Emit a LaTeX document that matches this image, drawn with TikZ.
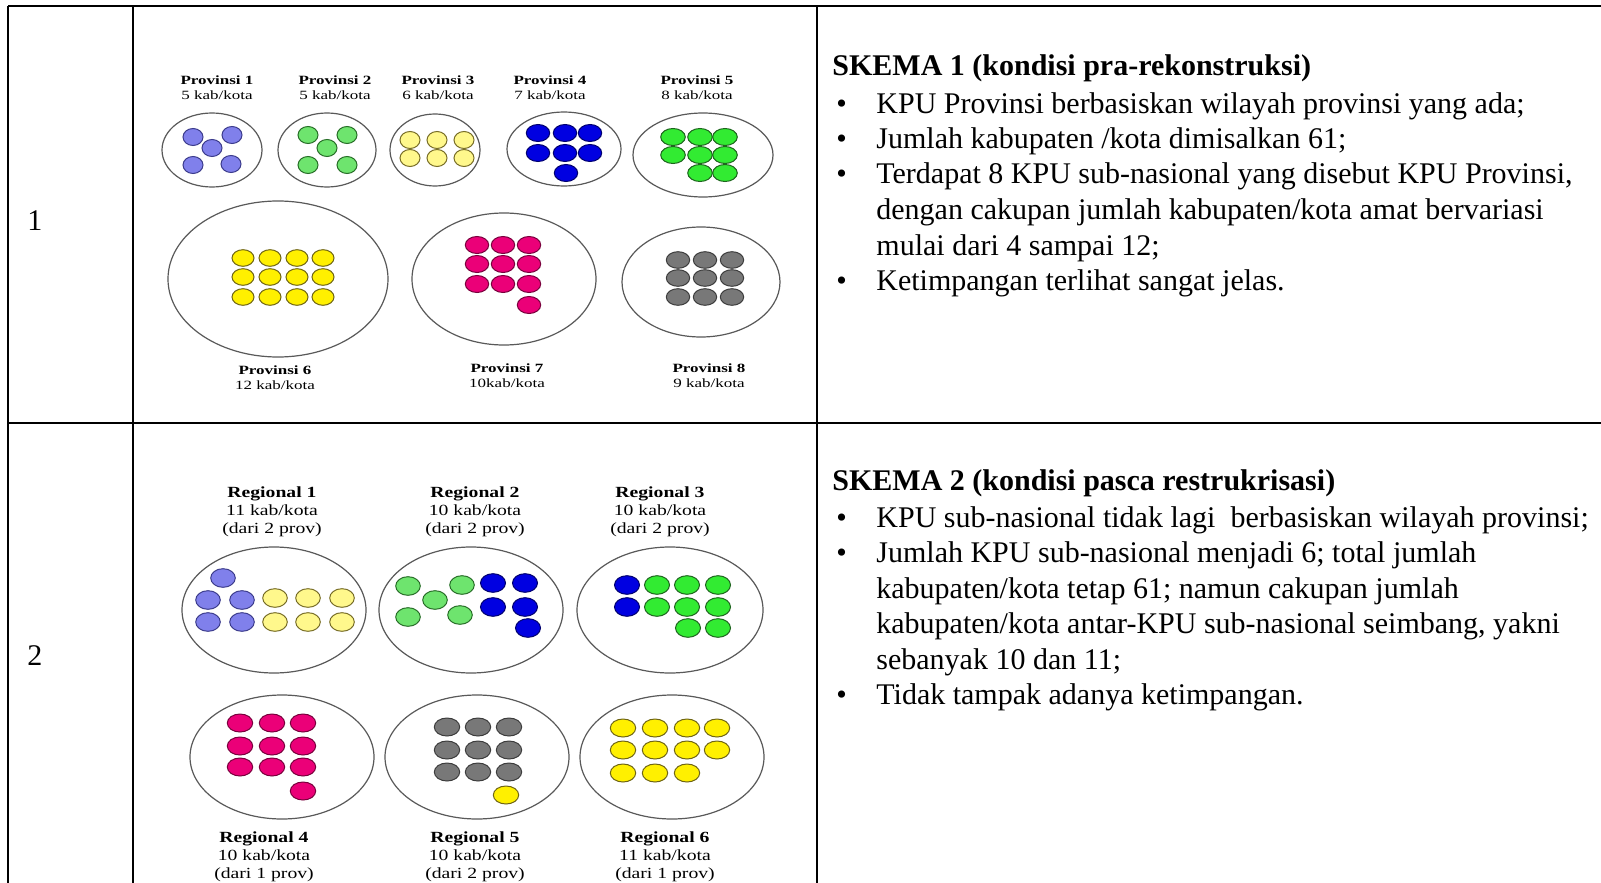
\documentclass[tikz,border=0pt]{standalone}
\usepackage{fontspec}
\setmainfont{Liberation Serif}
\usepackage{graphicx}
\definecolor{lav}{RGB}{128,128,235}
\definecolor{lavd}{RGB}{60,60,140}
\definecolor{lgreen}{RGB}{110,228,110}
\definecolor{lgreend}{RGB}{40,110,40}
\definecolor{pyel}{RGB}{255,248,140}
\definecolor{pyeld}{RGB}{120,110,40}
\definecolor{kblue}{RGB}{0,0,225}
\definecolor{kblued}{RGB}{0,0,110}
\definecolor{bgreen}{RGB}{50,235,50}
\definecolor{bgreend}{RGB}{30,100,30}
\definecolor{yel}{RGB}{255,240,0}
\definecolor{yeld}{RGB}{110,100,20}
\definecolor{mag}{RGB}{235,0,120}
\definecolor{magd}{RGB}{120,0,60}
\definecolor{kgray}{RGB}{120,120,120}
\definecolor{kgrayd}{RGB}{60,60,60}
\tikzset{
  tbl/.style={line width=1pt, draw=black},
  ring/.style={draw=black!65, line width=0.6pt},
  kd/.style={line width=0.5pt},
  body/.style={anchor=base west, inner sep=0pt, font=\fontsize{15}{17.75}\selectfont},
  head/.style={anchor=base west, inner sep=0pt, font=\bfseries\fontsize{15}{17.75}\selectfont},
  lblA/.style={anchor=base, inner sep=0pt, font=\fontsize{6.3}{7.5}\selectfont},
  lblB/.style={anchor=base, inner sep=0pt, font=\fontsize{7.75}{9}\selectfont},
}
\newcommand\kdots[5]{%
  \foreach \px/\py in {#5} {\filldraw[kd, fill=#1, draw=#2] (\px,\py) ellipse [x radius=#3, y radius=#4];}}
\newcommand\plbl[5]{%
  \node[lblA] (#1t) at (#2,#3) {\scalebox{1.35}[1]{\textbf{#4}}};
  \node[lblA] (#1s) at (#2,#3+15) {\scalebox{1.35}[1]{#5}};}
\newcommand\rlbl[6]{%
  \node[lblB] (#1t) at (#2,#3) {\scalebox{1.27}[1]{\textbf{#4}}};
  \node[lblB] (#1s) at (#2,#3+18) {\scalebox{1.27}[1]{#5}};
  \node[lblB] (#1u) at (#2,#3+36) {\scalebox{1.27}[1]{#6}};}
\begin{document}
\begin{tikzpicture}[x=0.5pt, y=-0.5pt]
\useasboundingbox (0,0) rectangle (1601,883);
\fill[white] (0,0) rectangle (1601,883);
% table
\draw[tbl] (8,6) -- (1601,6);
\draw[tbl] (8,6) -- (8,883);
\draw[tbl] (133,6) -- (133,883);
\draw[tbl, line width=1.3pt] (817,6) -- (817,883);
\draw[tbl] (8,423) -- (1601,423);
\node[body] (n1) at (27,230) {1};
\node[body] (n2) at (27,665) {2};
% ---------- row 1 diagram ----------
\plbl{p1}{217}{85}{Provinsi 1}{5 kab/kota}
\plbl{p2}{335}{85}{Provinsi 2}{5 kab/kota}
\plbl{p3}{438}{85}{Provinsi 3}{6 kab/kota}
\plbl{p4}{550}{85}{Provinsi 4}{7 kab/kota}
\plbl{p5}{697}{85}{Provinsi 5}{8 kab/kota}
\plbl{p6}{275}{374}{Provinsi 6}{12 kab/kota}
\plbl{p7}{507}{372}{Provinsi 7}{10kab/kota}
\plbl{p8}{709}{372}{Provinsi 8}{9 kab/kota}
\draw[ring] (212,150) ellipse [x radius=50, y radius=37];
\draw[ring] (327,150) ellipse [x radius=49, y radius=37];
\draw[ring] (435,150) ellipse [x radius=45, y radius=36];
\draw[ring] (564,149) ellipse [x radius=57, y radius=37];
\draw[ring] (703,155) ellipse [x radius=70, y radius=42];
\draw[ring] (278,279) ellipse [x radius=110, y radius=78];
\draw[ring] (504,279) ellipse [x radius=92, y radius=66];
\draw[ring] (701,282) ellipse [x radius=79, y radius=55];
\kdots{lav}{lavd}{10}{8.5}{193/137,232/135,212/148,193/165,231/164}
\kdots{lgreen}{lgreend}{10}{8.5}{308/135,347/135,327/148,308/165,347/165}
\kdots{pyel}{pyeld}{10}{8.5}{410/140,437/140,464/140,410/158,437/158,464/158}
\kdots{kblue}{kblued}{11.7}{8.5}{538/133,565/133,590/133,538/153,565/153,590/153,566/173}
\kdots{bgreen}{bgreend}{12.3}{8.5}{673/137,700/137,725/137,673/155,700/155,725/155,700/173,725/173}
\kdots{yel}{yeld}{11}{8.3}{243/258,270/258,297/258,323/258,243/277,270/277,297/277,323/277,243/297,270/297,297/297,323/297}
\kdots{mag}{magd}{11.7}{8.5}{477/245,503/245,529/245,477/264,503/264,529/264,477/284,503/284,529/284,529/305}
\kdots{kgray}{kgrayd}{11.7}{8.3}{678/260,705/260,732/260,678/278,705/278,732/278,678/297,705/297,732/297}
% ---------- row 2 diagram ----------
\rlbl{r1}{272}{497}{Regional 1}{11 kab/kota}{(dari 2 prov)}
\rlbl{r2}{475}{497}{Regional 2}{10 kab/kota}{(dari 2 prov)}
\rlbl{r3}{660}{497}{Regional 3}{10 kab/kota}{(dari 2 prov)}
\rlbl{r4}{264}{842}{Regional 4}{10 kab/kota}{(dari 1 prov)}
\rlbl{r5}{475}{842}{Regional 5}{10 kab/kota}{(dari 2 prov)}
\rlbl{r6}{665}{842}{Regional 6}{11 kab/kota}{(dari 1 prov)}
\draw[ring] (274,610) ellipse [x radius=92, y radius=63];
\draw[ring] (471,610) ellipse [x radius=92, y radius=63];
\draw[ring] (670,610) ellipse [x radius=93, y radius=63];
\draw[ring] (282,757) ellipse [x radius=92, y radius=62];
\draw[ring] (477,757) ellipse [x radius=92, y radius=62];
\draw[ring] (672,757) ellipse [x radius=92, y radius=62];
\kdots{lav}{lavd}{12.3}{9.3}{223/578,208/600,242/600,208/622,242/622}
\kdots{pyel}{pyeld}{12.3}{9.3}{275/598,308/598,342/598,275/622,308/622,342/622}
\kdots{lgreen}{lgreend}{12.3}{9.3}{408/586,462/585,435/600,408/617,460/615}
\kdots{kblue}{kblued}{12.5}{9.3}{493/583,525/583,493/607,525/607,528/628}
\kdots{kblue}{kblued}{12.5}{9.3}{627/585,627/607}
\kdots{bgreen}{bgreend}{12.5}{9.3}{657/585,687/585,718/585,657/607,687/607,718/607,688/628,718/628}
\kdots{mag}{magd}{12.7}{9}{240/723,272/723,303/723,240/746,272/746,303/746,240/767,272/767,303/767,303/791}
\kdots{kgray}{kgrayd}{12.7}{9}{447/727,478/727,509/727,447/750,478/750,509/750,447/772,478/772,509/772}
\kdots{yel}{yeld}{12.7}{9}{506/795}
\kdots{yel}{yeld}{12.7}{9}{623/728,655/728,687/728,717/728,623/750,655/750,687/750,717/750,623/773,655/773,687/773}
% ---------- row 1 text ----------
\node[head] (h1) at (832,76) {SKEMA 1 (kondisi pra-rekonstruksi)};
\node[body] (b1a) at (836,113) {\textbullet};
\node[body] (t1a) at (876,113) {KPU Provinsi berbasiskan wilayah provinsi yang ada;};
\node[body] (b1b) at (836,148.5) {\textbullet};
\node[body] (t1b) at (876,148.5) {Jumlah kabupaten /kota dimisalkan 61;};
\node[body] (b1c) at (836,184) {\textbullet};
\node[body] (t1c) at (876,184) {Terdapat 8 KPU sub-nasional yang disebut KPU Provinsi,};
\node[body] (t1d) at (876,219.5) {dengan cakupan jumlah kabupaten/kota amat bervariasi};
\node[body] (t1e) at (876,255) {mulai dari 4 sampai 12;};
\node[body] (b1f) at (836,290.5) {\textbullet};
\node[body] (t1f) at (876,290.5) {Ketimpangan terlihat sangat jelas.};
% ---------- row 2 text ----------
\node[head] (h2) at (832,490) {SKEMA 2 (kondisi pasca restrukrisasi)};
\node[body] (b2a) at (836,527) {\textbullet};
\node[body] (t2a) at (876,527) {KPU sub-nasional tidak lagi\ \ berbasiskan wilayah provinsi;};
\node[body] (b2b) at (836,562.5) {\textbullet};
\node[body] (t2b) at (876,562.5) {Jumlah KPU sub-nasional menjadi 6; total jumlah};
\node[body] (t2c) at (876,598) {kabupaten/kota tetap 61; namun cakupan jumlah};
\node[body] (t2d) at (876,633.5) {kabupaten/kota antar-KPU sub-nasional seimbang, yakni};
\node[body] (t2e) at (876,669) {sebanyak 10 dan 11;};
\node[body] (b2f) at (836,704.5) {\textbullet};
\node[body] (t2f) at (876,704.5) {Tidak tampak adanya ketimpangan.};
\end{tikzpicture}
\end{document}
